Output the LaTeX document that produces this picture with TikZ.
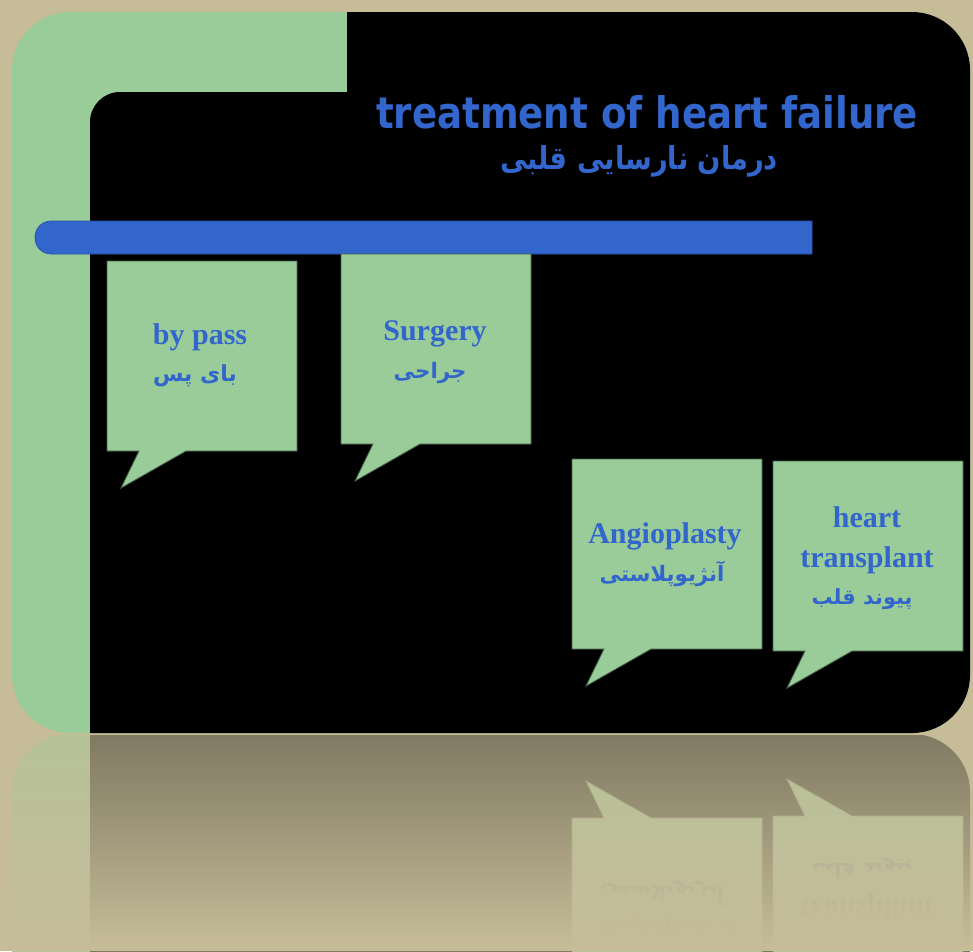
\documentclass[tikz,border=0pt]{standalone}
\usepackage{fontspec}
\usepackage{graphicx}
\usetikzlibrary{fadings}
\TeXXeTstate=1
\newfontfamily\titlefont{DejaVu Sans}
\newfontfamily\farsifont[Script=Arabic]{DejaVu Sans}
\newfontfamily\serifbold{Liberation Serif}
\definecolor{beige}{RGB}{198,188,152}
\definecolor{cardgreen}{RGB}{153,204,153}
\definecolor{cardblack}{RGB}{0,0,0}
\definecolor{txtblue}{RGB}{51,102,204}
\definecolor{barblue}{RGB}{51,102,204}
\definecolor{barline}{RGB}{40,80,170}
\definecolor{bubbleline}{RGB}{70,100,70}
\tikzfading[name=fadeup, top color=transparent!100, bottom color=transparent!0]
\tikzset{
  bubble/.style={fill=cardgreen, draw=bubbleline, line width=0.6pt, line join=miter},
  entxt/.style={anchor=base, text=txtblue, font=\serifbold\bfseries\fontsize{22.5}{27}\selectfont, inner sep=0pt},
  fatxt/.style={anchor=base, text=txtblue, font=\farsifont\bfseries\fontsize{20}{24}\selectfont, inner sep=0pt},
}
\newcommand{\bubbleshape}[2]{\draw[bubble] (#1,#2) -- ++(190,0) -- ++(0,190) -- ++(-111,0) -- ++(-65,37) -- ++(18,-37) -- ++(-32,0) -- cycle;}
\newcommand{\drawcard}{%
  \begin{scope}
    \clip[rounded corners=43.5pt] (12,12) rectangle (970,733);
    \fill[cardgreen] (0,0) rectangle (980,740);
    \fill[cardblack] (347,0) -- (980,0) -- (980,740) -- (90,740) [rounded corners=22.5pt] -- (90,92) [sharp corners] -- (347,92) -- cycle;
  \end{scope}
  \bubbleshape{572}{459}
  \bubbleshape{773}{461}
}
\newcommand{\lowertexts}[1]{%
  \node[entxt] (#1angio) at (665,543) {Angioplasty};
  \node[fatxt] (#1angiofa) at (662,581) {\resizebox{93.75pt}{!}{\beginR آنژیوپلاستی\endR}};
  \node[entxt] (#1transplant) at (867,567) {transplant};
  \node[fatxt] (#1transplantfa) at (862,604) {\resizebox{75.75pt}{!}{\beginR پیوند قلب\endR}};
}
\begin{document}
\begin{tikzpicture}[x=0.75pt,y=-0.75pt]
  \fill[beige] (0,0) rectangle (973,951);
  \useasboundingbox (0,0) rectangle (973,951);
  % main card
  \drawcard
  \filldraw[fill=barblue, draw=barline, line width=0.5pt] (812,221) -- (812,254) [rounded corners=12pt] -- (35,254) -- (35,221) [sharp corners] -- cycle;
  \node[anchor=base, inner sep=0pt, text=txtblue] (title) at (647,128)
    {\resizebox{406.5pt}{24.75pt}{\titlefont\bfseries treatment of heart failure}};
  \node[anchor=base, inner sep=0pt, text=txtblue, font=\farsifont\bfseries\fontsize{20}{24}\selectfont] (titlefa) at (639,169)
    {\resizebox{208.5pt}{18pt}{\beginR درمان نارسایی قلبی\endR}};
  \bubbleshape{107}{261}
  \bubbleshape{341}{254}
  \node[entxt] (bypass) at (200,344) {by pass};
  \node[fatxt] (bypassfa) at (195,381) {\resizebox{63pt}{!}{\beginR بای پس\endR}};
  \node[entxt] (surgery) at (435,340) {Surgery};
  \node[fatxt] (surgeryfa) at (430,378) {\resizebox{54.75pt}{!}{\beginR جراحی\endR}};
  \node[entxt] (heart) at (867,527) {heart};
  \lowertexts{m}
  % reflection
  \begin{scope}
    \clip (0,735) rectangle (973,951);
    \begin{scope}[shift={(0,1467)}, yscale=-1, transform shape]
      \definecolor{cardgreen}{RGB}{182,194,152}
      \definecolor{cardblack}{RGB}{129,122,99}
      \definecolor{txtblue}{RGB}{168,170,150}
      \definecolor{bubbleline}{RGB}{165,167,132}
      \drawcard
      \lowertexts{r}
    \end{scope}
  \end{scope}
  \fill[beige, path fading=fadeup] (0,734) rectangle (973,946);
  \fill[beige] (0,946) rectangle (973,951);
\end{tikzpicture}
\end{document}
